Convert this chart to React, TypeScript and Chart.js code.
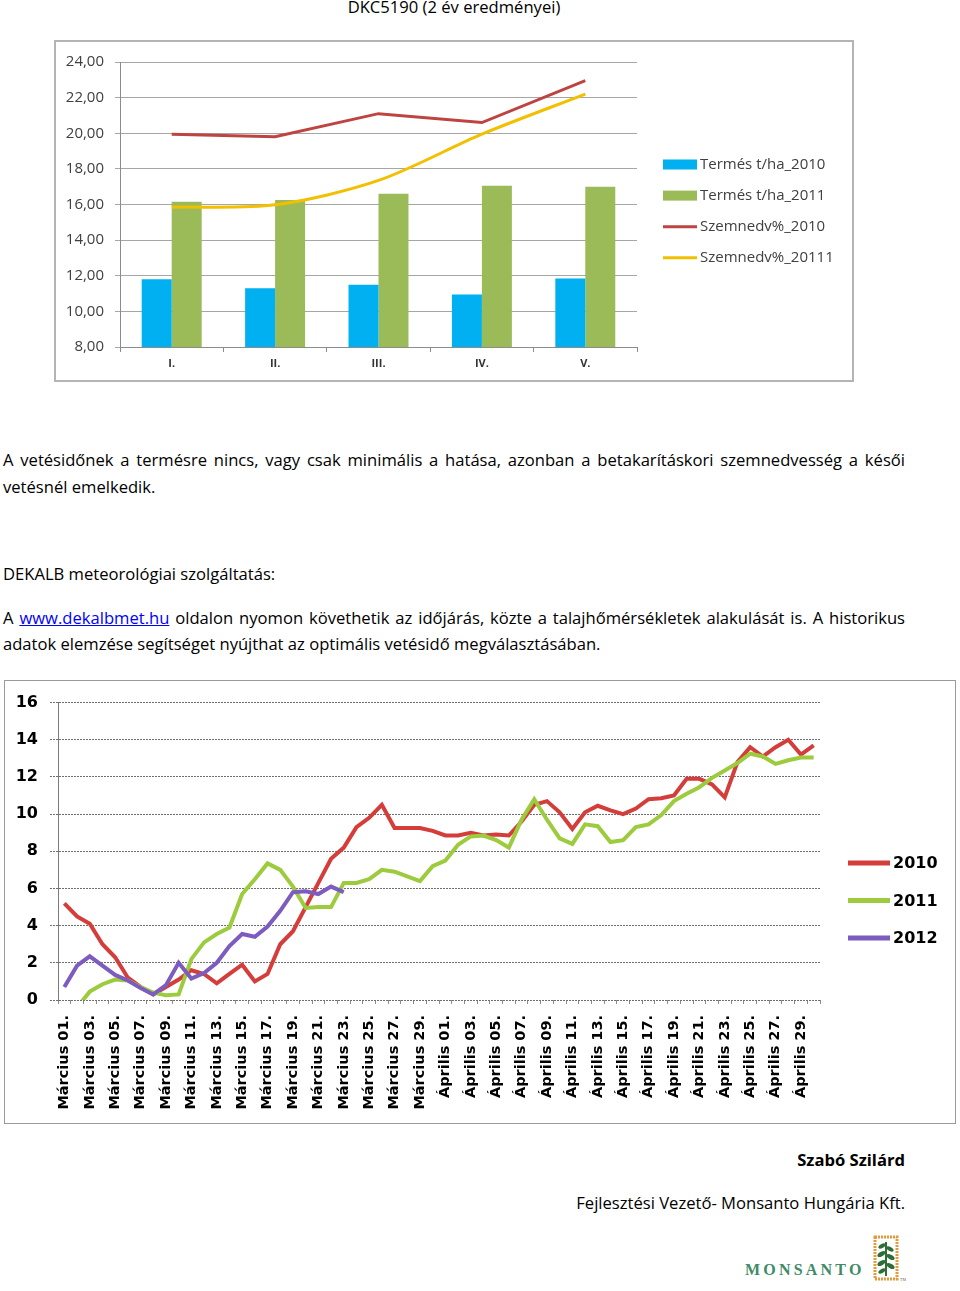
import React, { useEffect, useRef } from "react";
import { Chart, registerables } from "chart.js";

Chart.register(...registerables);

// ---------- Top chart data ----------
const topCategories = ["I.", "II.", "III.", "IV.", "V."];
const yield2010 = [11.8, 11.3, 11.5, 10.95, 11.85];
const yield2011 = [16.15, 16.25, 16.6, 17.05, 17.0];
const moisture2010 = [19.95, 19.8, 21.1, 20.6, 22.95];
const moisture2011 = [15.85, 15.98, 17.35, 19.95, 22.2];
const topSeriesLabels = ["Termés t/ha_2010", "Termés t/ha_2011", "Szemnedv%_2010", "Szemnedv%_20111"];
const topYRange = [8, 24];
const topYStep = 2;

// ---------- Bottom chart data ----------
const dayLabels = [
  "Március 01.", "Március 02.", "Március 03.", "Március 04.", "Március 05.", "Március 06.",
  "Március 07.", "Március 08.", "Március 09.", "Március 10.", "Március 11.", "Március 12.",
  "Március 13.", "Március 14.", "Március 15.", "Március 16.", "Március 17.", "Március 18.",
  "Március 19.", "Március 20.", "Március 21.", "Március 22.", "Március 23.", "Március 24.",
  "Március 25.", "Március 26.", "Március 27.", "Március 28.", "Március 29.", "Március 30.",
  "Április 01.", "Április 02.", "Április 03.", "Április 04.", "Április 05.", "Április 06.",
  "Április 07.", "Április 08.", "Április 09.", "Április 10.", "Április 11.", "Április 12.",
  "Április 13.", "Április 14.", "Április 15.", "Április 16.", "Április 17.", "Április 18.",
  "Április 19.", "Április 20.", "Április 21.", "Április 22.", "Április 23.", "Április 24.",
  "Április 25.", "Április 26.", "Április 27.", "Április 28.", "Április 29.", "Április 30.",
];
const temp2010 = [
  5.2, 4.5, 4.1, 3.0, 2.3, 1.2, 0.7, 0.3, 0.7, 1.1,
  1.6, 1.4, 0.9, 1.4, 1.9, 1.0, 1.4, 3.0, 3.7, 5.0,
  6.3, 7.6, 8.2, 9.3, 9.8, 10.5, 9.25, 9.25, 9.25, 9.1,
  8.85, 8.85, 9.0, 8.85, 8.9, 8.85, 9.6, 10.5, 10.7, 10.1,
  9.2, 10.1, 10.45, 10.2, 10.0, 10.3, 10.8, 10.85, 11.0, 11.9,
  11.9, 11.6, 10.9, 12.8, 13.6, 13.1, 13.6, 14.0, 13.2, 13.7,
];
const temp2011 = [
  null, -0.4, 0.45, 0.85, 1.1, 1.05, 0.7, 0.4, 0.25, 0.3,
  2.2, 3.1, 3.55, 3.9, 5.7, 6.5, 7.35, 7.0, 6.1, 4.95,
  5.0, 5.0, 6.3, 6.3, 6.5, 7.0, 6.9, 6.65, 6.4, 7.2,
  7.5, 8.35, 8.8, 8.85, 8.6, 8.2, 9.7, 10.8, 9.7, 8.7,
  8.4, 9.45, 9.35, 8.5, 8.6, 9.3, 9.45, 9.95, 10.7, 11.1,
  11.45, 11.95, 12.35, 12.75, 13.25, 13.1, 12.7, 12.9, 13.05, 13.05,
];
const temp2012 = [
  0.7, 1.85, 2.35, 1.85, 1.35, 1.05, 0.65, 0.3, 0.8, 2.0,
  1.15, 1.45, 2.0, 2.9, 3.55, 3.4, 3.95, 4.8, 5.8, 5.85,
  5.7, 6.1, 5.8,
];
const bottomSeriesLabels = ["2010", "2011", "2012"];
const bottomYRange = [0, 16];
const bottomYStep = 2;

// ---------- custom legend plugin ----------
const customLegend = {
  id: "customLegend",
  afterDraw(chart: any, _args: any, opts: any) {
    const { ctx } = chart;
    ctx.save();
    chart.data.datasets.forEach((ds: any, i: number) => {
      const y = opts.y + i * opts.gap;
      const isBar = (ds.type || chart.config.type) === "bar";
      if (isBar) {
        ctx.fillStyle = ds.backgroundColor;
        ctx.fillRect(opts.x, y - opts.boxH / 2, opts.sampleW, opts.boxH);
      } else {
        ctx.strokeStyle = ds.borderColor;
        ctx.lineWidth = opts.lineW;
        ctx.beginPath();
        ctx.moveTo(opts.x, y);
        ctx.lineTo(opts.x + opts.sampleW, y);
        ctx.stroke();
      }
      ctx.fillStyle = opts.color;
      ctx.font = opts.font;
      ctx.textBaseline = "middle";
      ctx.textAlign = "left";
      ctx.fillText(ds.label, opts.x + opts.sampleW + opts.textGap, y + (opts.textDy || 0));
    });
    ctx.restore();
  },
};

function TopChart() {
  const ref = useRef<HTMLCanvasElement>(null);
  useEffect(() => {
    const chart = new Chart(ref.current as HTMLCanvasElement, {
      type: "bar",
      data: {
        labels: topCategories,
        datasets: [
          { type: "bar", label: topSeriesLabels[0], data: yield2010, backgroundColor: "#00b0f0", order: 10, categoryPercentage: 0.58, barPercentage: 1.0 } as any,
          { type: "bar", label: topSeriesLabels[1], data: yield2011, backgroundColor: "#9bbb59", order: 10, categoryPercentage: 0.58, barPercentage: 1.0 } as any,
          { type: "line", label: topSeriesLabels[2], data: moisture2010, borderColor: "#be4441", backgroundColor: "#be4441", borderWidth: 3, pointRadius: 0, tension: 0, order: 2 } as any,
          { type: "line", label: topSeriesLabels[3], data: moisture2011, borderColor: "#f2c000", backgroundColor: "#f2c000", borderWidth: 3, pointRadius: 0, tension: 0.3, order: 1 } as any,
        ],
      },
      options: {
        animation: false,
        responsive: false,
        maintainAspectRatio: false,
        layout: { padding: { left: 0, right: 215, top: 17, bottom: 0 } },
        plugins: {
          legend: { display: false },
          tooltip: { enabled: false },
          customLegend: {
            x: 607, y: 122.5, gap: 31.1, sampleW: 34, boxH: 10, lineW: 3, textGap: 3,
            font: '15px "Open Sans"', color: "#404040", textDy: 0,
          },
        } as any,
        scales: {
          x: {
            offset: true,
            grid: { offset: true, drawOnChartArea: false, drawTicks: true, tickLength: 5, color: "#8c8c8c" },
            border: { display: true, color: "#8c8c8c", width: 1 },
            ticks: { font: { family: "Open Sans", size: 11, weight: "bold" }, color: "#333", padding: 5 },
            afterFit: (s: any) => { s.height = 33; },
          },
          y: {
            min: topYRange[0],
            max: topYRange[1],
            grid: { color: "#a6a6a6", lineWidth: 1, tickLength: 5 },
            border: { display: true, color: "#8c8c8c", width: 1 },
            ticks: {
              stepSize: topYStep,
              font: { family: "Open Sans", size: 15 },
              color: "#404040",
              padding: 11,
              callback: (v: any) => Number(v).toFixed(2).replace(".", ","),
            },
            afterFit: (s: any) => { s.width = 64; },
          },
        },
      } as any,
      plugins: [customLegend],
    });
    return () => chart.destroy();
  }, []);
  return (
    <div style={{ position: "absolute", left: 54, top: 40, width: 800, height: 342, border: "2px solid #b4b4b4", boxSizing: "border-box", background: "#fff" }}>
      <canvas ref={ref} width={796} height={338} style={{ display: "block", width: 796, height: 338 }} />
    </div>
  );
}

function BottomChart() {
  const ref = useRef<HTMLCanvasElement>(null);
  useEffect(() => {
    const chart = new Chart(ref.current as HTMLCanvasElement, {
      type: "line",
      data: {
        labels: dayLabels,
        datasets: [
          { label: bottomSeriesLabels[0], data: temp2010, borderColor: "#d43d3a", backgroundColor: "#d43d3a", borderWidth: 4, pointRadius: 0, tension: 0, order: 3 },
          { label: bottomSeriesLabels[1], data: temp2011, borderColor: "#9dcb3e", backgroundColor: "#9dcb3e", borderWidth: 4, pointRadius: 0, tension: 0, order: 2 },
          { label: bottomSeriesLabels[2], data: temp2012, borderColor: "#7d5cbf", backgroundColor: "#7d5cbf", borderWidth: 4, pointRadius: 0, tension: 0, order: 1 },
        ],
      },
      options: {
        animation: false,
        responsive: false,
        maintainAspectRatio: false,
        layout: { padding: { left: 0, right: 135, top: 21, bottom: 0 } },
        plugins: {
          legend: { display: false },
          tooltip: { enabled: false },
          customLegend: {
            x: 843, y: 182, gap: 37.5, sampleW: 42, boxH: 10, lineW: 5, textGap: 3,
            font: 'bold 16px "DejaVu Sans"', color: "#000", textDy: 1,
          },
        } as any,
        scales: {
          x: {
            offset: true,
            grid: { offset: true, drawOnChartArea: false, drawTicks: true, tickLength: 4, color: "#8c8c8c" },
            border: { display: false },
            ticks: {
              autoSkip: false,
              minRotation: 90,
              maxRotation: 90,
              padding: 11,
              color: "#000",
              font: { family: "DejaVu Sans", size: 14.5, weight: "bold" },
              callback: (_v: any, idx: number) => (idx % 2 === 0 ? dayLabels[idx] : ""),
            },
            afterFit: (s: any) => { s.height = 123; },
          },
          y: {
            min: bottomYRange[0],
            max: bottomYRange[1],
            grid: { color: "#6e6e6e", lineWidth: 1, tickLength: 8, tickBorderDash: [2, 1] },
            border: { display: true, color: "#7a7a7a", width: 1, dash: [2, 1] },
            ticks: {
              stepSize: bottomYStep,
              padding: 12,
              color: "#000",
              font: { family: "DejaVu Sans", size: 16, weight: "bold" },
            },
            afterFit: (s: any) => { s.width = 53; },
          },
        },
      } as any,
      plugins: [customLegend],
    });
    return () => chart.destroy();
  }, []);
  return (
    <div style={{ position: "absolute", left: 4, top: 680, width: 952, height: 444, border: "1px solid #9a9a9a", boxSizing: "border-box", background: "#fff" }}>
      <canvas ref={ref} width={950} height={442} style={{ display: "block", width: 950, height: 442 }} />
    </div>
  );
}

const textBase: React.CSSProperties = {
  position: "absolute",
  fontFamily: '"Open Sans", sans-serif',
  fontSize: 16.6,
  lineHeight: "20px",
  color: "#000",
  whiteSpace: "nowrap",
};

function Logo() {
  return (
    <>
      <div
        style={{
          position: "absolute",
          left: 745,
          top: 1260,
          fontFamily: '"Liberation Serif", serif',
          fontWeight: "bold",
          fontSize: 16,
          letterSpacing: 3.2,
          color: "#3f8a68",
          lineHeight: "20px",
        }}
      >
        MONSANTO
      </div>
      <svg style={{ position: "absolute", left: 872, top: 1234 }} width={34} height={50}>
        <rect x={3} y={3} width={22} height={42} fill="none" stroke="#e39a3a" strokeWidth={3} strokeDasharray="2 1" />
        <line x1={14} y1={8} x2={14} y2={42} stroke="#2d6f36" strokeWidth={2} />
        <ellipse cx={10} cy={12} rx={4} ry={2} fill="#2d6f36" transform="rotate(-30 10 12)" />
        <ellipse cx={18} cy={15} rx={4} ry={2} fill="#2d6f36" transform="rotate(30 18 15)" />
        <ellipse cx={9.5} cy={20} rx={4.5} ry={2.2} fill="#2d6f36" transform="rotate(-30 9.5 20)" />
        <ellipse cx={18.5} cy={23} rx={4.5} ry={2.2} fill="#2d6f36" transform="rotate(30 18.5 23)" />
        <ellipse cx={9.5} cy={29} rx={4.5} ry={2.2} fill="#2d6f36" transform="rotate(-30 9.5 29)" />
        <ellipse cx={18.5} cy={32} rx={4.5} ry={2.2} fill="#2d6f36" transform="rotate(30 18.5 32)" />
        <ellipse cx={10} cy={37} rx={4} ry={2} fill="#2d6f36" transform="rotate(-30 10 37)" />
        <text x={28} y={47} fontSize={4} fill="#666">TM</text>
      </svg>
    </>
  );
}

export default function App() {
  return (
    <div style={{ position: "absolute", left: 0, top: 0, width: 960, height: 1291, background: "#fff", overflow: "hidden" }}>
      <div style={{ ...textBase, left: 0, width: 908, top: -3, textAlign: "center" }}>DKC5190 (2 év eredményei)</div>
      <TopChart />
      <div style={{ ...textBase, left: 3, width: 902, top: 450, textAlign: "justify", textAlignLast: "justify" as any }}>
        A vetésidőnek a termésre nincs, vagy csak minimális a hatása, azonban a betakarításkori szemnedvesség a késői
      </div>
      <div style={{ ...textBase, left: 3, top: 477 }}>vetésnél emelkedik.</div>
      <div style={{ ...textBase, left: 3, top: 564 }}>DEKALB meteorológiai szolgáltatás:</div>
      <div style={{ ...textBase, left: 3, width: 902, top: 608, textAlign: "justify", textAlignLast: "justify" as any }}>
        A <span style={{ color: "#0000ff", textDecoration: "underline" }}>www.dekalbmet.hu</span> oldalon nyomon követhetik az időjárás, közte a talajhőmérsékletek alakulását is. A historikus
      </div>
      <div style={{ ...textBase, left: 3, top: 634 }}>adatok elemzése segítséget nyújthat az optimális vetésidő megválasztásában.</div>
      <BottomChart />
      <div style={{ ...textBase, right: 55, top: 1150, fontWeight: "bold" }}>Szabó Szilárd</div>
      <div style={{ ...textBase, right: 55, top: 1193 }}>Fejlesztési Vezető- Monsanto Hungária Kft.</div>
      <Logo />
    </div>
  );
}
